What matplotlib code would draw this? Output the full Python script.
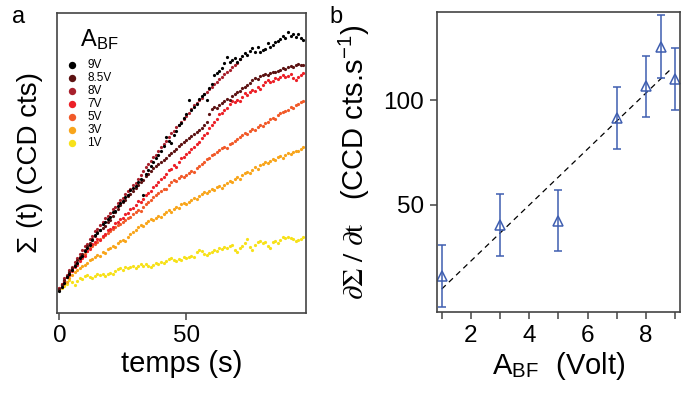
import matplotlib
matplotlib.use("Agg")
import matplotlib.pyplot as plt

plt.rcParams['font.family'] = ['Liberation Sans', 'DejaVu Sans']
plt.rcParams['mathtext.fontset'] = 'stix'

# panel a: Sigma(t) in arbitrary units, one point per second
volts_labels = ['9V', '8.5V', '8V', '7V', '5V', '3V', '1V']
colors = ['#000000', '#5c1212', '#a8202c', '#ec2027', '#f15a29', '#f8a51b', '#f7e11a']

sig_9v = [7.2, 8.8, 10.1, 11.9, 13.0, 14.2, 15.8, 16.6, 18.4, 19.1, 20.5, 21.8, 22.6, 24.3, 25.9, 26.8,
          27.7, 29.5, 30.2, 31.4, 32.0, 33.6, 34.1, 35.8, 36.5, 37.3, 38.6, 39.4, 40.9, 41.5, 42.2, 43.8,
          44.6, 39.2, 46.3, 47.5, 48.9, 50.4, 51.6, 52.8, 54.1, 55.7, 58.5, 57.2, 56.6, 59.3, 60.8, 62.5,
          63.4, 64.9, 66.2, 71.0, 67.8, 68.8, 69.6, 71.2, 72.4, 73.1, 71.0, 74.9, 76.3, 79.3, 80.1, 80.7,
          81.8, 83.2, 85.2, 83.6, 84.3, 84.9, 83.5, 84.7, 85.6, 86.6, 86.1, 87.3, 88.2, 86.9, 88.8, 87.1,
          87.5, 88.0, 90.1, 88.6, 89.4, 90.3, 90.8, 91.4, 92.2, 91.6, 93.8, 92.4, 93.1, 92.0, 92.9, 91.8,
          91.0]
sig_8v5 = [7.9, 9.3, 10.9, 12.2, 13.8, 15.0, 16.1, 17.5, 18.6, 19.8, 21.0, 22.4, 23.3, 24.8, 25.6, 26.9,
           27.5, 28.4, 29.1, 30.3, 31.0, 32.4, 33.5, 34.8, 35.9, 37.0, 37.8, 38.9, 39.6, 40.7, 41.8, 42.6,
           43.5, 44.4, 45.6, 46.2, 47.3, 48.2, 49.0, 49.6, 50.4, 50.9, 51.7, 52.5, 53.2, 53.9, 54.8, 55.5,
           56.3, 57.0, 57.8, 58.4, 59.0, 59.6, 60.3, 61.0, 61.8, 62.6, 63.7, 66.4, 67.9, 68.6, 68.2, 69.4,
           70.1, 70.6, 71.4, 71.0, 72.3, 72.9, 73.6, 74.0, 74.9, 75.4, 76.0, 76.8, 77.5, 78.3, 78.0, 78.9,
           79.2, 79.6, 79.3, 80.0, 80.4, 80.2, 80.8, 81.1, 81.5, 81.2, 81.9, 82.3, 82.0, 82.6, 82.9, 82.5,
           82.8]
sig_8v = [8.4, 9.8, 11.5, 12.7, 14.3, 15.4, 16.9, 18.2, 19.6, 21.1, 22.3, 23.1, 24.6, 25.8, 27.4, 28.1,
          29.3, 30.2, 31.5, 32.3, 33.2, 34.5, 35.3, 36.6, 37.8, 38.4, 39.7, 40.5, 41.3, 42.6, 43.4, 44.8,
          45.9, 47.2, 48.5, 49.8, 50.6, 51.9, 52.8, 54.0, 55.2, 56.4, 57.3, 58.6, 59.9, 60.8, 61.9, 62.6,
          63.8, 64.5, 65.7, 66.8, 67.9, 69.2, 70.1, 71.0, 71.8, 72.9, 73.6, 74.7, 75.4, 76.2, 77.1, 78.0,
          78.6, 79.5, 80.3, 81.0, 81.9, 82.5, 83.3, 84.6]
sig_7v = [8.3, 9.6, 10.5, 12.0, 12.8, 14.1, 15.3, 16.0, 17.4, 18.2, 19.1, 20.6, 21.3, 22.9, 23.5, 24.8,
          24.2, 25.6, 26.3, 27.5, 28.0, 28.7, 29.9, 30.4, 31.2, 31.8, 33.0, 33.4, 34.6, 35.1, 36.0, 37.4,
          37.0, 38.1, 39.3, 40.0, 40.6, 42.1, 42.8, 43.5, 44.6, 45.3, 46.2, 47.6, 47.9, 49.2, 48.7, 50.3,
          51.5, 52.0, 53.1, 53.6, 54.8, 55.2, 56.3, 56.9, 58.2, 59.4, 60.0, 61.5, 62.6, 63.8, 64.5, 66.2,
          66.8, 67.7, 68.3, 69.5, 70.6, 70.2, 71.0, 70.8, 72.1, 73.3, 72.6, 73.5, 74.4, 74.0, 75.2, 74.6,
          76.1, 77.0, 77.7, 76.9, 77.4, 78.3, 78.0, 78.8, 79.4, 78.6, 78.9, 79.6, 78.2, 77.7, 78.5, 79.3,
          80.0]
sig_5v = [8.0, 9.4, 10.8, 12.1, 13.3, 14.2, 15.6, 16.4, 17.8, 18.9, 19.7, 20.8, 21.6, 22.3, 23.1, 23.8,
          24.6, 25.4, 25.9, 26.8, 27.4, 27.9, 28.7, 29.2, 29.8, 30.4, 31.0, 31.7, 32.1, 32.9, 33.5, 34.2,
          34.0, 35.3, 36.4, 37.1, 37.6, 38.5, 39.2, 40.1, 40.8, 41.4, 41.2, 42.6, 43.5, 44.2, 44.0, 44.9,
          45.6, 45.3, 46.1, 46.8, 47.2, 47.0, 48.3, 48.9, 49.6, 50.3, 51.2, 51.8, 52.5, 53.0, 53.7, 54.3,
          54.9, 55.4, 55.1, 56.2, 56.8, 57.3, 57.9, 58.6, 59.4, 60.0, 59.6, 60.7, 61.3, 61.0, 62.1, 62.6,
          62.4, 63.3, 63.8, 64.5, 65.1, 64.8, 66.0, 66.5, 66.9, 67.4, 67.8, 68.5, 68.2, 69.3, 69.8, 70.2,
          70.6]
sig_3v = [7.8, 8.5, 9.6, 10.4, 11.8, 12.5, 13.6, 14.2, 15.0, 15.7, 16.1, 16.8, 17.5, 18.1, 18.6, 19.3,
          19.0, 20.4, 20.1, 21.2, 21.8, 22.4, 22.1, 23.4, 23.9, 24.3, 24.0, 25.2, 26.4, 26.9, 27.6, 28.8,
          29.4, 29.0, 30.1, 30.5, 31.2, 31.0, 31.8, 32.4, 32.1, 32.9, 33.6, 34.2, 33.8, 34.5, 35.3, 35.0,
          36.2, 36.6, 36.3, 37.1, 37.8, 38.4, 38.0, 38.9, 39.7, 40.4, 40.0, 40.8, 41.3, 41.0, 41.9, 42.4,
          41.8, 42.6, 43.3, 43.9, 43.5, 44.6, 45.2, 44.8, 45.9, 46.5, 47.1, 46.6, 47.8, 48.5, 48.1, 49.2,
          49.8, 50.3, 49.9, 50.8, 51.4, 51.1, 51.9, 52.3, 51.8, 52.6, 53.2, 53.0, 53.8, 54.1, 54.0, 54.6,
          55.2]
sig_1v = [7.5, 8.2, 8.9, 9.8, 11.0, 10.2, 9.4, 10.8, 11.7, 11.2, 12.4, 12.8, 12.0, 11.6, 12.3, 12.9,
          12.6, 13.1, 12.4, 13.0, 13.4, 13.1, 14.0, 14.6, 15.0, 14.4, 15.2, 14.9, 15.4, 15.6, 15.1, 15.8,
          16.2, 15.7, 16.3, 15.5, 15.2, 16.1, 16.6, 16.2, 17.0, 16.5, 17.4, 17.9, 18.3, 17.6, 17.2, 18.0,
          17.7, 18.5, 18.2, 18.8, 19.1, 18.6, 20.2, 21.0, 20.6, 19.8, 19.4, 20.0, 20.4, 21.1, 20.8, 21.7,
          21.2, 22.0, 21.5, 22.4, 22.7, 20.9, 20.2, 21.6, 22.3, 23.4, 24.5, 22.0, 21.1, 22.5, 23.6, 24.0,
          23.3, 23.8, 22.3, 21.6, 23.7, 23.9, 23.2, 24.3, 25.4, 24.9, 25.3, 25.0, 24.6, 23.9, 24.2, 24.8,
          25.3]
series = [sig_9v, sig_8v5, sig_8v, sig_7v, sig_5v, sig_3v, sig_1v]

# panel b: slope vs A_BF
a_bf = [1, 3, 5, 7, 8, 8.5, 9]
slope = [16.2, 40.5, 42.5, 91.3, 106.5, 125.4, 110.0]
slope_err = [14.8, 14.8, 14.6, 14.8, 14.7, 15.0, 14.8]
fit_x = [1.0, 8.87]
fit_a, fit_b = 13.35, -3.4

BLUE = '#3f5eb0'
SPINE = '#444444'


def style_axes(ax):
    for s in ax.spines.values():
        s.set_color(SPINE)
        s.set_linewidth(1.2)
    ax.tick_params(direction='out', length=5, width=1.1, color=SPINE,
                   labelsize=17.5, pad=4)


def plot_a(ax):
    for lab, col, ys in reversed(list(zip(volts_labels, colors, series))):
        t = list(range(len(ys)))
        ax.plot(t, ys, ls='none', marker='o', ms=2.3, mec='none', mfc=col)
    ax.set_xlim(-0.9, 97.1)
    ax.set_ylim(0, 100)
    ax.set_xticks([0, 50])
    ax.set_yticks([])
    style_axes(ax)
    ax.set_xlabel('temps (s)', fontsize=21, labelpad=2)
    ax.set_ylabel('Σ (t) (CCD cts)', fontsize=20, labelpad=10)

    # hand made legend
    ax.text(0.094, 0.887, r'A$_{\mathregular{BF}}$', fontsize=17, transform=ax.transAxes)
    for i, (lab, col) in enumerate(zip(volts_labels, colors)):
        y = 0.827 - i * 0.0433
        ax.plot([0.0615], [y], marker='o', ms=5.3, mec='none', mfc=col,
                transform=ax.transAxes)
        ax.text(0.122, y, lab, fontsize=8.5, va='center', transform=ax.transAxes)


def plot_b(ax):
    xs = [fit_x[0], fit_x[1]]
    ax.plot(xs, [fit_a * x + fit_b for x in xs], ls=(0, (4.5, 3.5)), color='k', lw=0.9)
    ax.errorbar(a_bf, slope, yerr=slope_err, ls='none', marker='^', ms=6.5,
                mfc='none', mec=BLUE, mew=1.1, ecolor=BLUE, elinewidth=1.1,
                capsize=3.2, capthick=1.1)
    ax.set_xlim(0.83, 9.16)
    ax.set_ylim(-1.1, 141.8)
    ax.set_xticks([2, 4, 6, 8])
    ax.set_xticks([1, 3, 5, 7, 9], minor=True)
    ax.set_yticks([50, 100])
    style_axes(ax)
    ax.tick_params(which='minor', direction='out', length=5, width=1.1, color=SPINE)
    ax.set_xlabel(r'A$_{\mathregular{BF}}$  (Volt)', fontsize=21, labelpad=2)
    ax.set_ylabel(r'$\partial\Sigma\ /\ \partial\mathrm{t}$   (CCD cts.s$^{\mathregular{-1}}$)',
                  fontsize=21, labelpad=8)


def main():
    fig = plt.figure(figsize=(6.83, 3.98), dpi=100)
    ax1 = fig.add_axes([0.0835, 0.2136, 0.3646, 0.7538])
    ax2 = fig.add_axes([0.6394, 0.2154, 0.3562, 0.7538])
    plot_a(ax1)
    plot_b(ax2)
    fig.text(0.017, 0.985, 'a', fontsize=17, va='top')
    fig.text(0.483, 0.985, 'b', fontsize=17, va='top')
    fig.savefig('out.png', dpi=100)


main()
